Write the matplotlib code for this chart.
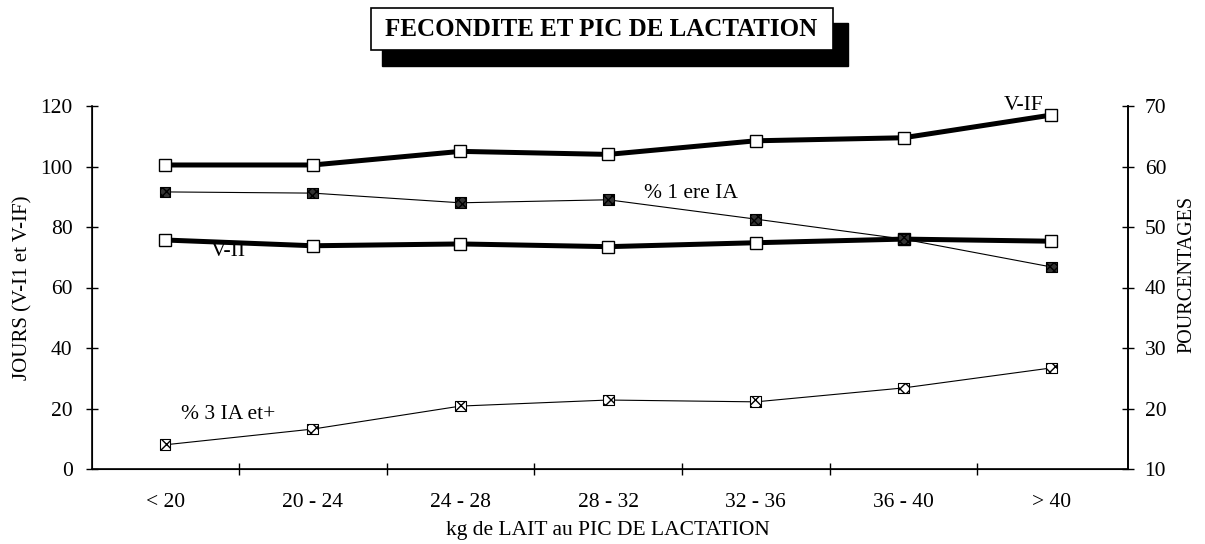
import matplotlib
matplotlib.use("Agg")
import matplotlib.pyplot as plt
from matplotlib.patches import Rectangle

categories = ["< 20", "20 - 24", "24 - 28", "28 - 32", "32 - 36", "36 - 40", "> 40"]
v_if = [100.5, 100.5, 105.0, 104.0, 108.5, 109.5, 117.0]
v_ii = [75.7, 73.8, 74.4, 73.5, 74.8, 76.0, 75.3]
pct_1ere_ia = [55.8, 55.6, 54.0, 54.5, 51.3, 48.0, 43.4]
pct_3ia = [14.0, 16.6, 20.4, 21.4, 21.1, 23.4, 26.7]
left_ticks = [0, 20, 40, 60, 80, 100, 120]
right_ticks = [10, 20, 30, 40, 50, 60, 70]

plt.rcParams['font.family'] = ['Liberation Serif', 'DejaVu Serif']

W, H = 1205, 544
fig = plt.figure(figsize=(W / 100, H / 100), dpi=100)
ax = fig.add_axes([92 / W, (H - 469) / H, (1128 - 92) / W, 363 / H])
x = list(range(len(categories)))

ax.plot(x, v_if, color='black', lw=3.6, marker='s', ms=8.5, mfc='white', mec='black', mew=1.0, zorder=3)
ax.plot(x, v_ii, color='black', lw=3.6, marker='s', ms=8.5, mfc='white', mec='black', mew=1.0, zorder=3)
ax.set_ylim(0, 120)
ax.set_xlim(-0.495, 6.52)
ax.set_yticks(left_ticks)
ax.set_xticks([i + 0.5 for i in range(len(categories) - 1)])
ax.set_xticklabels([])
ax.set_xticks(x, minor=True)
ax.set_xticklabels(categories, minor=True, fontsize=15.5)
ax.tick_params(axis='x', which='minor', length=0, pad=17)
ax.tick_params(axis='x', which='major', direction='inout', length=8, width=1)
ax.tick_params(axis='y', direction='inout', length=8, width=1, labelsize=15.5, pad=10)
ax.spines['top'].set_visible(False)
for s in ['left', 'bottom', 'right']:
    ax.spines[s].set_linewidth(1.2)
ax.set_ylabel("JOURS (V-I1 et V-IF)", fontsize=15, va='center')
ax.yaxis.set_label_coords((23 - 92) / 1036, (469 - 288) / 363)
ax.set_xlabel("kg de LAIT au PIC DE LACTATION", fontsize=15.5, va='center')
ax.xaxis.set_label_coords((608 - 92) / 1036, -(530 - 469) / 363)

ax2 = ax.twinx()
ax2.plot(x, pct_1ere_ia, color='black', lw=0.8, zorder=2)
ax2.scatter(x, pct_1ere_ia, marker='s', s=60, facecolor='#333333', edgecolor='black',
            hatch='xxxx', linewidth=0.8, zorder=4)
ax2.plot(x, pct_3ia, color='black', lw=0.8, zorder=2)
ax2.scatter(x, pct_3ia, marker='s', s=60, facecolor='white', edgecolor='black',
            hatch='xxx', linewidth=0.8, zorder=4)
ax2.set_ylim(10, 70)
ax2.set_yticks(right_ticks)
ax2.tick_params(axis='y', direction='inout', length=8, width=1, labelsize=15.5, pad=8)
ax2.spines['top'].set_visible(False)
ax2.spines['right'].set_linewidth(1.2)
ax2.set_ylabel("POURCENTAGES", fontsize=14.5, va='center')
ax2.yaxis.set_label_coords((1187 - 92) / 1036, (469 - 274) / 363)

ax.text(5.81, 120, "V-IF", fontsize=15.5, ha='center', va='center')
ax.text(0.43, 72, "V-II", fontsize=15.5, ha='center', va='center')
ax.text(3.56, 91.2, "% 1 ere IA", fontsize=15.5, ha='center', va='center')
ax.text(0.43, 17.9, "% 3 IA et+", fontsize=15.5, ha='center', va='center')

# title box with shadow
def fx(px):
    return px / W

def fy(py):
    return 1 - py / H

fig.patches.append(Rectangle((fx(382), fy(66)), fx(848) - fx(382), fy(23) - fy(66),
                             transform=fig.transFigure, facecolor='black', edgecolor='black', zorder=1))
fig.patches.append(Rectangle((fx(371), fy(50)), fx(833) - fx(371), fy(8) - fy(50),
                             transform=fig.transFigure, facecolor='white', edgecolor='black', lw=1.2, zorder=2))
fig.text(fx(601), fy(29), "FECONDITE ET PIC DE LACTATION", fontsize=18, fontweight='bold',
         ha='center', va='center', zorder=3)

fig.savefig("out.png", dpi=100)
